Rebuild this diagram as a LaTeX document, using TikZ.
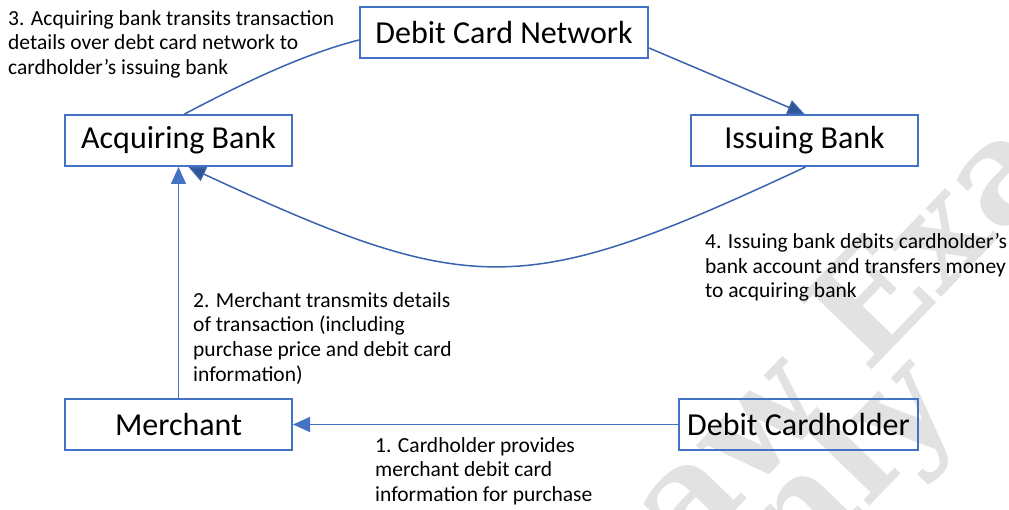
\documentclass[tikz,border=0pt]{standalone}
\usepackage{fontspec}
\setmainfont{Carlito}
\newfontfamily\wmfont{DejaVu Serif}
\usetikzlibrary{arrows.meta}
\definecolor{boxblue}{HTML}{4472C4}
\definecolor{darkblue}{HTML}{2F5597}
\definecolor{curveblue}{HTML}{3A63AD}
\definecolor{wmgrey}{HTML}{E2E2E2}
\tikzset{
  box/.style={draw=boxblue, line width=2pt, minimum height=51pt, inner sep=0pt,
              font=\fontsize{32}{38}\selectfont},
  note/.style={anchor=north west, inner sep=0pt, align=left,
               font=\fontsize{21.5}{24.7}\selectfont},
  lightarrow/.style={draw=boxblue, line width=1.5pt, -{Triangle[length=17pt,width=15pt]}},
  darkarrow/.style={draw=curveblue, line width=1.5pt, -{Triangle[length=17pt,width=15pt,fill=darkblue]}},
  plainline/.style={draw=curveblue, line width=1.5pt},
  wm/.style={text=wmgrey, inner sep=0pt, rotate=46, font=\wmfont\bfseries\fontsize{140}{140}\selectfont}
}
\begin{document}
\begin{tikzpicture}[x=1pt,y=-1pt]
\useasboundingbox (0,0) rectangle (1009,510);
\begin{scope}
\clip (0,0) rectangle (1009,510);
\node[wm] (wm1) at (856,314) {Law Exam};
\node[wm] (wm2) at (808,515) {Only};
\end{scope}
% boxes
\node[box, minimum width=288pt] (dcn) at (504,33) {Debit Card Network};
\node[box, minimum width=227pt] (acq) at (178.5,140.5) {Acquiring Bank};
\node[box, minimum width=227pt] (iss) at (804.5,140.5) {Issuing Bank};
\node[box, minimum width=227pt] (mer) at (178.5,424.5) {Merchant};
\node[box, minimum width=239pt] (ch) at (798.5,424.5) {Debit Cardholder};
% connectors
\draw[plainline] ([xshift=6pt]acq.north) .. controls (240,85) and (300,55) .. ([yshift=-7pt]dcn.west);
\draw[darkarrow] ([yshift=-15pt]dcn.east) -- (iss.north);
\draw[darkarrow] ([xshift=1pt]iss.south) .. controls (523,299) and (473,299) .. ([xshift=10pt]acq.south);
\draw[lightarrow] (mer.north) -- (acq.south);
\draw[lightarrow] (ch.west) -- (mer.east);
% notes
\node[note] (n3) at (8,10) {3. Acquiring bank transits transaction\\details over debt card network to\\cardholder’s issuing bank};
\node[note] (n4) at (705,233) {4. Issuing bank debits cardholder’s\\bank account and transfers money\\to acquiring bank};
\node[note] (n2) at (193,292) {2. Merchant transmits details\\of transaction (including\\purchase price and debit card\\information)};
\node[note] (n1) at (375,437) {1. Cardholder provides\\merchant debit card\\information for purchase};
\end{tikzpicture}
\end{document}
